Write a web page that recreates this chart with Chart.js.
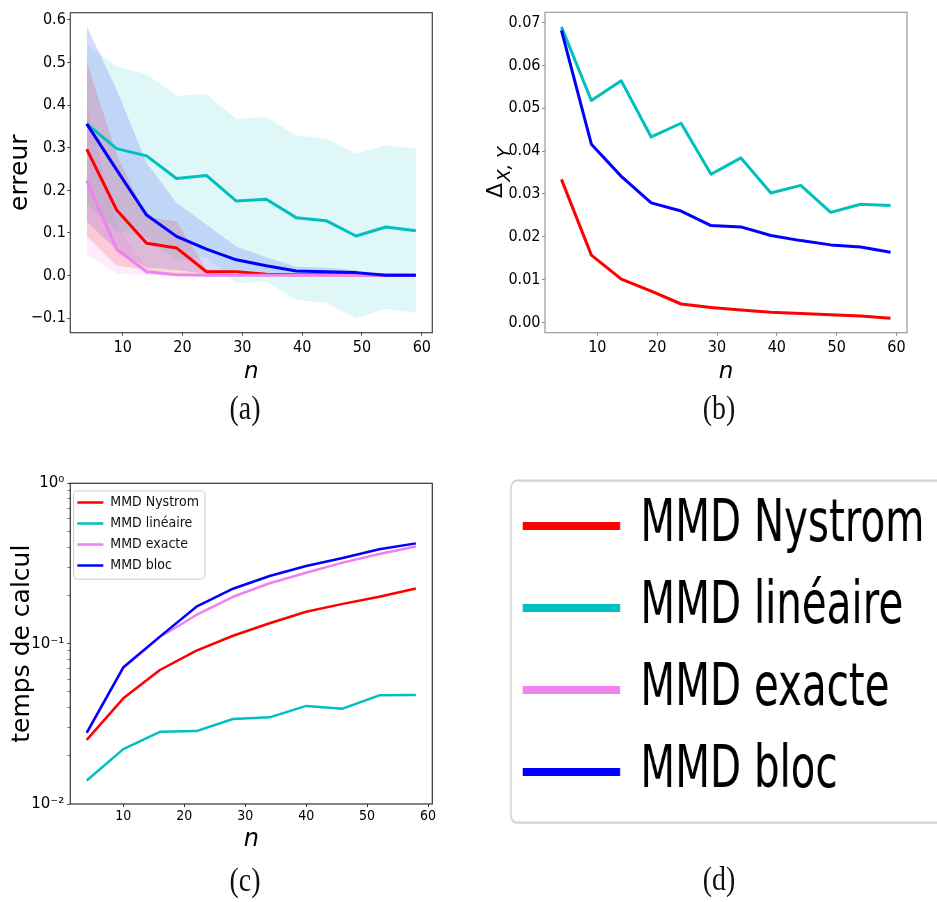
<!DOCTYPE html>
<html lang="fr">
<head>
<meta charset="utf-8">
<title>MMD : erreur, écart et temps de calcul</title>
<script src="https://cdn.jsdelivr.net/npm/chart.js@4.4.1/dist/chart.umd.min.js"></script>
<style>
  html, body { margin: 0; background: #fff; }
  #fig { position: relative; width: 937px; height: 902px; overflow: hidden; }
  #fig canvas { position: absolute; }
  #chartA { left: 0; top: 0; }
  #chartB { left: 470px; top: 0; }
  #chartC { left: 0; top: 460px; }
  #panelD { position: absolute; left: 470px; top: 460px; width: 467px; height: 442px; overflow: hidden; }
  #chartD { left: 0; top: 0; transform: scaleX(0.696); transform-origin: 0 0; }
  .cap {
    position: absolute; line-height: 1;
    font: 34px "Liberation Serif", "DejaVu Serif", serif; color: #111;
    transform: translate(-50%, -50%) scaleX(0.82);
  }
</style>
</head>
<body>
<div id="fig">
  <canvas id="chartA" width="470" height="440"></canvas>
  <canvas id="chartB" width="467" height="440"></canvas>
  <canvas id="chartC" width="470" height="442"></canvas>
  <div id="panelD"><canvas id="chartD" width="671" height="442"></canvas></div>
  <div class="cap" style="left:245px;top:408px">(a)</div>
  <div class="cap" style="left:719px;top:408px">(b)</div>
  <div class="cap" style="left:245px;top:880px">(c)</div>
  <div class="cap" style="left:719px;top:879px">(d)</div>
</div>
<script>
"use strict";

// methods, in legend order
const seriesLabels = ["MMD Nystrom", "MMD linéaire", "MMD exacte", "MMD bloc"];

// (a) error vs n : mean curve and the shaded band around it
const nErr = [4, 9, 14, 19, 24, 29, 34, 39, 44, 49, 54, 59];
const errNystrom   = [0.297, 0.154, 0.076, 0.065, 0.009, 0.009, 0.003, 0.002, 0.002, 0.002, 0.001, 0.001];
const errNystromHi = [0.502, 0.284, 0.138, 0.127, 0.015, 0.012, 0.005, 0.004, 0.004, 0.003, 0.002, 0.002];
const errNystromLo = [0.092, 0.024, 0.014, 0.003, 0.003, 0.006, 0.001, 0.000, 0.000, 0.001, 0.000, 0.000];
const errLin   = [0.356, 0.298, 0.281, 0.228, 0.235, 0.175, 0.179, 0.136, 0.129, 0.093, 0.114, 0.105];
const errLinHi = [0.545, 0.490, 0.473, 0.422, 0.426, 0.368, 0.372, 0.329, 0.322, 0.286, 0.306, 0.298];
const errLinLo = [0.167, 0.106, 0.089, 0.034, 0.044, -0.018, -0.014, -0.057, -0.064, -0.100, -0.078, -0.088];
const errExact   = [0.223, 0.062, 0.009, 0.002, 0.001, 0.001, 0.001, 0.001, 0.001, 0.001, 0.001, 0.001];
const errExactHi = [0.397, 0.119, 0.018, 0.004, 0.002, 0.002, 0.002, 0.002, 0.002, 0.002, 0.002, 0.002];
const errExactLo = [0.049, 0.005, 0.000, 0.000, 0.000, 0.000, 0.000, 0.000, 0.000, 0.000, 0.000, 0.000];
const errBloc   = [0.356, 0.248, 0.142, 0.092, 0.062, 0.037, 0.023, 0.011, 0.009, 0.007, 0.001, 0.001];
const errBlocHi = [0.585, 0.436, 0.265, 0.171, 0.120, 0.068, 0.043, 0.021, 0.019, 0.012, 0.002, 0.002];
const errBlocLo = [0.127, 0.060, 0.019, 0.013, 0.004, 0.006, 0.003, 0.001, -0.001, 0.002, 0.000, 0.000];
const errTicks = [-0.1, 0, 0.1, 0.2, 0.3, 0.4, 0.5, 0.6];

// (b) Delta_{X,Y} vs n
const deltaNystrom = [0.0334, 0.0157, 0.0101, 0.0073, 0.0043, 0.0035, 0.0029, 0.0024, 0.0021, 0.0018, 0.0015, 0.0010];
const deltaLin     = [0.0690, 0.0518, 0.0564, 0.0433, 0.0465, 0.0346, 0.0384, 0.0302, 0.0320, 0.0257, 0.0276, 0.0273];
const deltaBloc    = [0.0682, 0.0416, 0.0341, 0.0279, 0.0260, 0.0226, 0.0223, 0.0203, 0.0191, 0.0181, 0.0176, 0.0164];
const deltaTicks = [0, 0.01, 0.02, 0.03, 0.04, 0.05, 0.06, 0.07];

// (c) computation time vs n (log scale)
const nTime = [4, 10, 16, 22, 28, 34, 40, 46, 52, 58];
const timeNystrom = [0.0251, 0.0456, 0.0685, 0.0904, 0.112, 0.134, 0.158, 0.177, 0.196, 0.221];
const timeLin     = [0.0140, 0.0220, 0.0282, 0.0285, 0.0339, 0.0347, 0.0409, 0.0393, 0.0476, 0.0478];
const timeExact   = [0.0277, 0.0706, 0.110, 0.151, 0.196, 0.238, 0.277, 0.320, 0.362, 0.403];
const timeBloc    = [0.0279, 0.0712, 0.1106, 0.170, 0.220, 0.264, 0.305, 0.342, 0.388, 0.422];
const timeMajorTicks = [0.01, 0.1, 1];
const timeMajorLabels = ["10⁻²", "10⁻¹", "10⁰"];
const timeMinorTicks = [0.02, 0.03, 0.04, 0.05, 0.06, 0.07, 0.08, 0.09, 0.2, 0.3, 0.4, 0.5, 0.6, 0.7, 0.8, 0.9];

const nTicks = [10, 20, 30, 40, 50, 60];

// styles
const RED = "#ff0000", CYAN = "#00bfbf", VIOLET = "#ee82ee", BLUE = "#0000ff";
const seriesColors = [RED, CYAN, VIOLET, BLUE];
const TICK_FAMILY = "'DejaVu Sans Condensed', 'DejaVu Sans', sans-serif";
const TITLE_FAMILY = "'DejaVu Sans', sans-serif";

Chart.defaults.color = "#000";
Chart.defaults.font.family = TITLE_FAMILY;

const pts = (xs, ys) => xs.map((x, i) => ({ x, y: ys[i] }));
const minus = (s) => s.replace("-", "\u2212");

function line(label, xs, ys, color, width, order) {
  return {
    label, data: pts(xs, ys), order,
    borderColor: color, backgroundColor: color, borderWidth: width,
    borderJoinStyle: "round", pointRadius: 0, fill: false
  };
}

function band(xs, lo, hi, color) {
  return [
    { data: pts(xs, hi), borderWidth: 0, borderColor: "transparent", pointRadius: 0, fill: false, order: 10 },
    { data: pts(xs, lo), borderWidth: 0, borderColor: "transparent", pointRadius: 0, fill: "-1", backgroundColor: color, order: 10 }
  ];
}

// full box around the plotting area, like matplotlib spines
const frame = {
  id: "frame",
  afterDatasetsDraw(chart, args, opts) {
    const { ctx, chartArea: a } = chart;
    ctx.save();
    ctx.strokeStyle = opts.color;
    ctx.lineWidth = opts.width;
    ctx.strokeRect(a.left, a.top, a.right - a.left, a.bottom - a.top);
    ctx.restore();
  }
};

// rounded box behind the legend entries
const legendFrame = {
  id: "legendFrame",
  beforeDraw(chart, args, o) {
    const boxes = chart.legend && chart.legend.legendHitBoxes;
    if (!boxes || !boxes.length) return;
    const left = Math.min(...boxes.map((b) => b.left)) - o.pad[0];
    const top = Math.min(...boxes.map((b) => b.top)) - o.pad[1];
    const right = Math.max(...boxes.map((b) => b.left + b.width)) + o.pad[2];
    const bottom = Math.max(...boxes.map((b) => b.top + b.height)) + o.pad[3];
    const ctx = chart.ctx;
    ctx.save();
    ctx.beginPath();
    ctx.roundRect(left, top, right - left, bottom - top, o.radius);
    ctx.fillStyle = o.fill;
    ctx.fill();
    ctx.strokeStyle = o.color;
    ctx.lineWidth = o.width;
    ctx.stroke();
    ctx.restore();
  }
};

// y label of (b): Delta with an italic "X, Y" subscript
const deltaTitle = {
  id: "deltaTitle",
  afterDraw(chart) {
    const { ctx, chartArea: a } = chart;
    const main = "Δ", sub = "X, Y";
    const mainFont = "22px " + TITLE_FAMILY;
    const subFont = "italic 18px " + TITLE_FAMILY;
    ctx.save();
    ctx.font = mainFont;
    const wMain = ctx.measureText(main).width;
    ctx.font = subFont;
    const wSub = ctx.measureText(sub).width;
    const total = wMain + 1 + wSub;
    ctx.translate(a.left - 43, (a.top + a.bottom) / 2 + total / 2);
    ctx.rotate(-Math.PI / 2);
    ctx.fillStyle = "#000";
    ctx.textBaseline = "alphabetic";
    ctx.font = mainFont;
    ctx.fillText(main, 0, 0);
    ctx.font = subFont;
    ctx.fillText(sub, wMain + 1, 8);
    ctx.restore();
  }
};

function xAxis(min, max, height, tickSize, tickPad, titleSize, tickColor) {
  return {
    type: "linear", min, max,
    afterBuildTicks: (s) => { s.ticks = nTicks.map((v) => ({ value: v })); },
    afterFit: (s) => { s.height = height; },
    ticks: {
      autoSkip: false, maxRotation: 0, padding: tickPad,
      font: { size: tickSize, family: TICK_FAMILY }, color: "#000",
      callback: (v) => String(v)
    },
    grid: { drawOnChartArea: false, drawTicks: true, tickLength: 3, tickColor },
    border: { display: false },
    title: { display: true, text: "n", padding: 0, font: { size: titleSize, style: "italic", family: TITLE_FAMILY } }
  };
}

const baseOptions = {
  responsive: false,
  animation: false,
  events: [],
  plugins: {
    legend: { display: false },
    tooltip: { enabled: false },
    filler: { propagate: false, drawTime: "beforeDatasetsDraw" }
  }
};

// (a) erreur
new Chart(document.getElementById("chartA"), {
  type: "line",
  data: {
    datasets: [
      ...band(nErr, errNystromLo, errNystromHi, "rgba(255,0,0,0.15)"),
      ...band(nErr, errLinLo, errLinHi, "rgba(0,191,191,0.12)"),
      ...band(nErr, errExactLo, errExactHi, "rgba(238,130,238,0.15)"),
      ...band(nErr, errBlocLo, errBlocHi, "rgba(0,0,255,0.15)"),
      line(seriesLabels[0], nErr, errNystrom, RED, 3, 3),
      line(seriesLabels[1], nErr, errLin, CYAN, 3, 2),
      line(seriesLabels[2], nErr, errExact, VIOLET, 3, 1),
      line(seriesLabels[3], nErr, errBloc, BLUE, 3, 0)
    ]
  },
  options: {
    ...baseOptions,
    layout: { padding: { left: 5, right: 37.7, top: 12.7, bottom: 54 } },
    plugins: { ...baseOptions.plugins, frame: { color: "#444", width: 1.2 } },
    scales: {
      x: xAxis(1.25, 61.75, 53.3, 16, 2.4, 23, "#444"),
      y: {
        type: "linear", min: -0.134, max: 0.617,
        afterBuildTicks: (s) => { s.ticks = errTicks.map((v) => ({ value: v })); },
        afterFit: (s) => { s.width = 65.3; },
        ticks: {
          autoSkip: false, padding: 1.5,
          font: { size: 16, family: TICK_FAMILY }, color: "#000",
          callback: (v) => minus(v.toFixed(1))
        },
        grid: { drawOnChartArea: false, drawTicks: true, tickLength: 3, tickColor: "#444" },
        border: { display: false },
        title: { display: true, text: "erreur", padding: 0, font: { size: 25, family: TITLE_FAMILY } }
      }
    }
  },
  plugins: [frame]
});

// (b) Delta_{X,Y}
new Chart(document.getElementById("chartB"), {
  type: "line",
  data: {
    datasets: [
      line(seriesLabels[0], nErr, deltaNystrom, RED, 3, 2),
      line(seriesLabels[1], nErr, deltaLin, CYAN, 3, 1),
      line(seriesLabels[3], nErr, deltaBloc, BLUE, 3, 0)
    ]
  },
  options: {
    ...baseOptions,
    layout: { padding: { left: 0, right: 30, top: 12.3, bottom: 54 } },
    plugins: { ...baseOptions.plugins, frame: { color: "#999", width: 1.2 } },
    scales: {
      x: xAxis(1.25, 61.75, 53.3, 16, 2.4, 23, "#888"),
      y: {
        type: "linear", min: -0.0024, max: 0.0724,
        afterBuildTicks: (s) => { s.ticks = deltaTicks.map((v) => ({ value: v })); },
        afterFit: (s) => { s.width = 75; },
        ticks: {
          autoSkip: false, padding: 1.5,
          font: { size: 16, family: TICK_FAMILY }, color: "#000",
          callback: (v) => v.toFixed(2)
        },
        grid: { drawOnChartArea: false, drawTicks: true, tickLength: 3, tickColor: "#888" },
        border: { display: false },
        title: { display: false }
      }
    }
  },
  plugins: [frame, deltaTitle]
});

// (c) temps de calcul
new Chart(document.getElementById("chartC"), {
  type: "line",
  data: {
    datasets: [
      line(seriesLabels[0], nTime, timeNystrom, RED, 2.5, 3),
      line(seriesLabels[1], nTime, timeLin, CYAN, 2.5, 2),
      line(seriesLabels[2], nTime, timeExact, VIOLET, 2.5, 1),
      line(seriesLabels[3], nTime, timeBloc, BLUE, 2.5, 0)
    ]
  },
  options: {
    ...baseOptions,
    layout: { padding: { left: 7, right: 37.7, top: 23.3, bottom: 47.6 } },
    plugins: {
      ...baseOptions.plugins,
      frame: { color: "#333", width: 1.2 },
      legend: {
        display: true, position: "chartArea", align: "start",
        // empty title only pushes the entries down from the top edge
        title: { display: true, text: "", font: { size: 1 }, padding: { top: 27.3, bottom: 0 } },
        labels: {
          usePointStyle: true, pointStyle: "line", pointStyleWidth: 26, padding: 7,
          font: { size: 14, family: TICK_FAMILY }, color: "#111",
          sort: (a, b) => a.datasetIndex - b.datasetIndex
        }
      },
      legendFrame: { pad: [3.7, 4.6, 6, 6.7], radius: 4, fill: "rgba(255,255,255,0.8)", color: "#ccc", width: 1 }
    },
    scales: {
      x: xAxis(1.3, 60.7, 50.4, 14, 1.3, 24, "#333"),
      y: {
        type: "logarithmic", min: 0.01, max: 1,
        afterBuildTicks: (s) => {
          s.ticks = [...timeMajorTicks, ...timeMinorTicks].sort((p, q) => p - q).map((v) => ({ value: v }));
        },
        afterFit: (s) => { s.width = 63.3; },
        ticks: {
          autoSkip: false, padding: 3,
          font: { size: 15, family: TITLE_FAMILY }, color: "#000",
          callback: (v) => {
            const i = timeMajorTicks.indexOf(v);
            return i >= 0 ? timeMajorLabels[i] : "";
          }
        },
        grid: {
          drawOnChartArea: false, drawTicks: true, tickLength: 3,
          tickColor: (c) => (timeMajorTicks.includes(c.tick && c.tick.value) ? "#333" : "#666"),
          tickWidth: (c) => (timeMajorTicks.includes(c.tick && c.tick.value) ? 1 : 0.8)
        },
        border: { display: false },
        title: { display: true, text: "temps de calcul", padding: 0, font: { size: 25, family: TITLE_FAMILY } }
      }
    }
  },
  plugins: [frame, legendFrame]
});

// (d) legend shared by the three panels
new Chart(document.getElementById("chartD"), {
  type: "line",
  data: {
    datasets: seriesLabels.map((label, i) => ({
      label, data: [], borderColor: seriesColors[i], backgroundColor: seriesColors[i], borderWidth: 8
    }))
  },
  options: {
    ...baseOptions,
    layout: { padding: { left: 51.7, top: 13, right: 0, bottom: 0 } },
    scales: { x: { display: false }, y: { display: false } },
    plugins: {
      ...baseOptions.plugins,
      legend: {
        display: true, position: "chartArea", align: "start",
        title: { display: true, text: "", font: { size: 1 }, padding: { top: 11.8, bottom: 0 } },
        labels: {
          usePointStyle: true, pointStyle: "line", pointStyleWidth: 140, padding: 24,
          font: { size: 58, family: TITLE_FAMILY }, color: "#000"
        }
      },
      legendFrame: { pad: [17, 16.3, 29, 21.7], radius: 8, fill: "#fff", color: "#d4d4d4", width: 2.2 }
    }
  },
  plugins: [legendFrame]
});
</script>
</body>
</html>
